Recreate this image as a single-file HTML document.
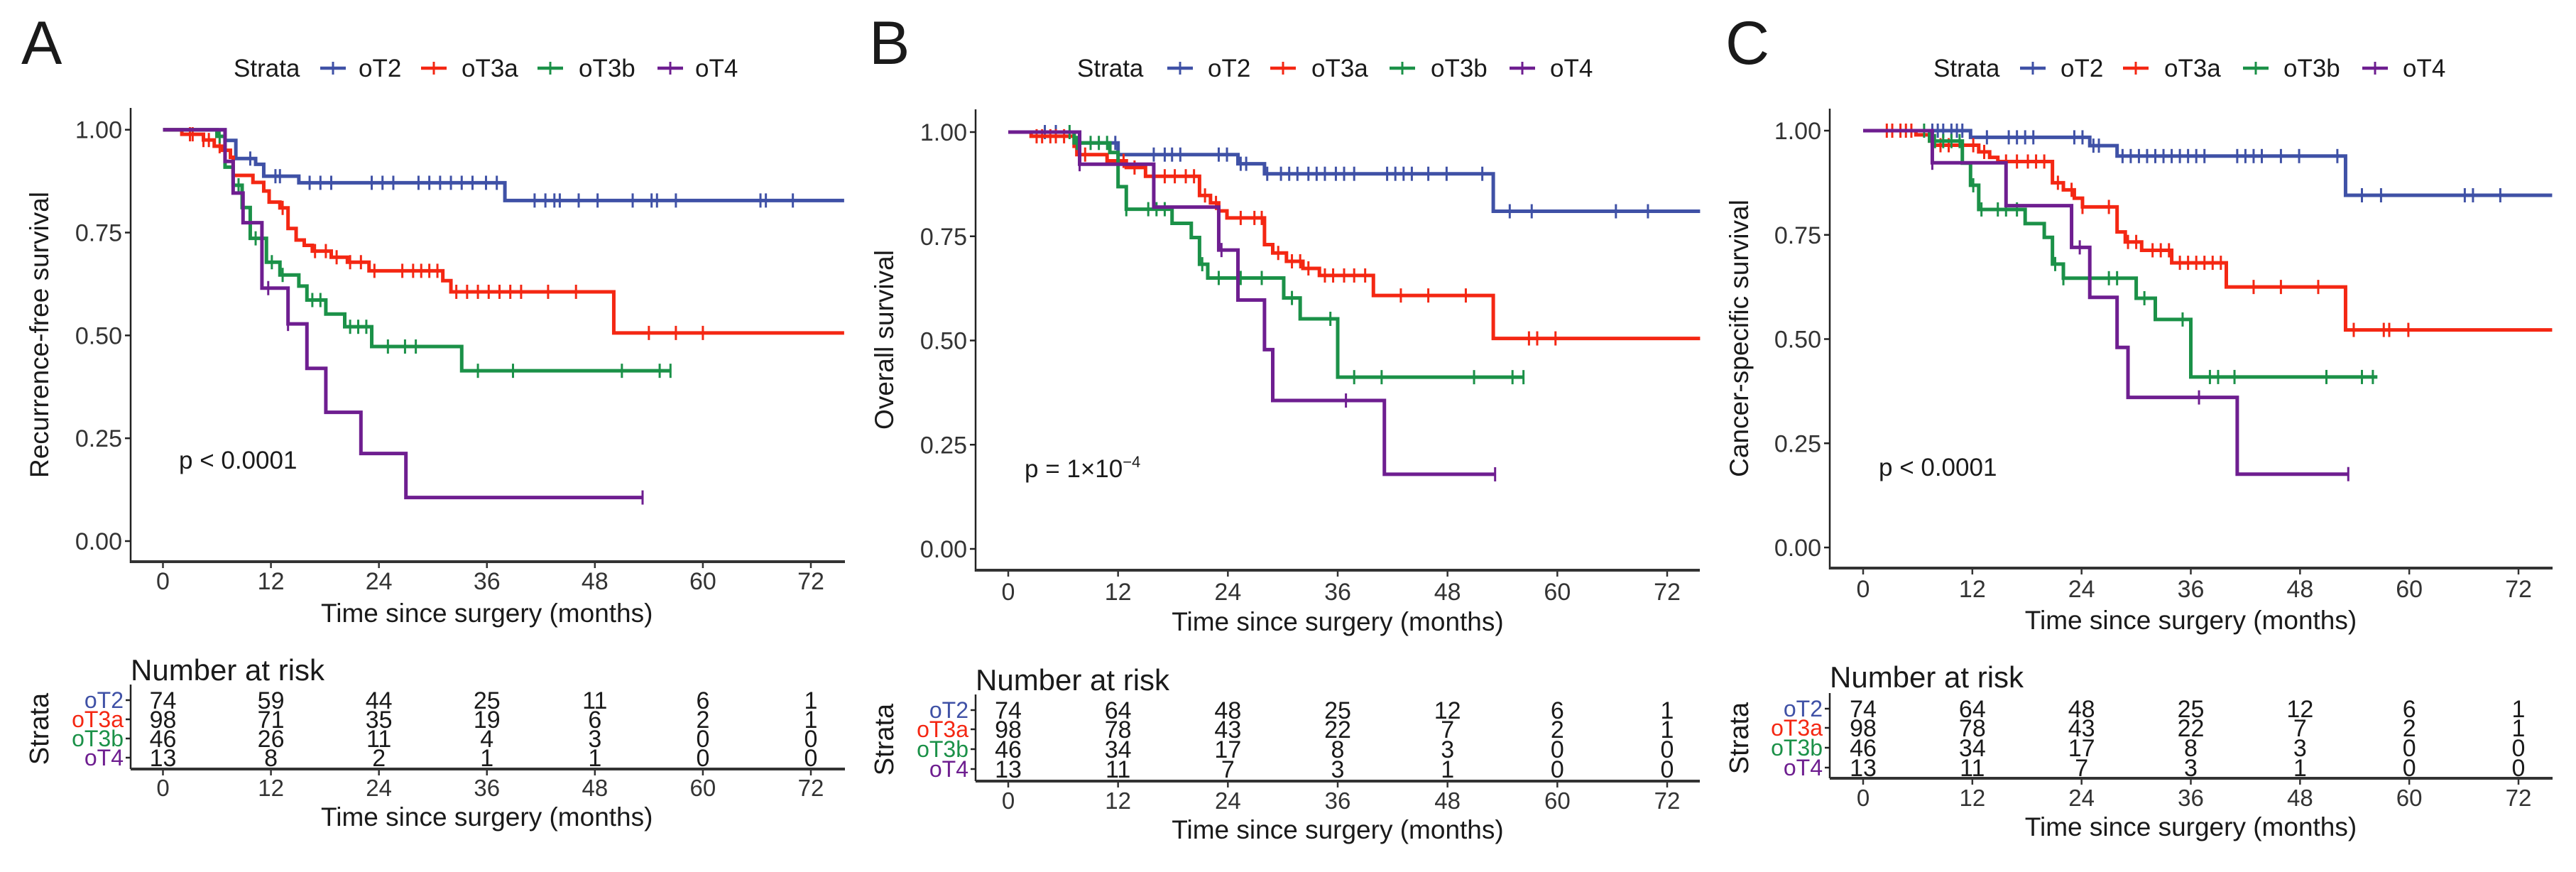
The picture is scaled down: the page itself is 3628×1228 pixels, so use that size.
<!DOCTYPE html>
<html><head><meta charset="utf-8"><style>
html,body{margin:0;padding:0;background:#fff}
svg{display:block}
text{font-family:"Liberation Sans",Arial,sans-serif}
</style></head><body>
<svg id="fig" width="3628" height="1228" viewBox="0 0 3628 1228" xmlns="http://www.w3.org/2000/svg" fill="#1a1a1a"></svg>
<script>
// ---------- data ----------
const strataNames = ["oT2","oT3a","oT3b","oT4"];
const timeTicks = [0,12,24,36,48,60,72];
const yTicks = [0,0.25,0.5,0.75,1];
const yTickLabels = ["0.00","0.25","0.50","0.75","1.00"];

const riskA = [[74,59,44,25,11,6,1],[98,71,35,19,6,2,1],[46,26,11,4,3,0,0],[13,8,2,1,1,0,0]];
const riskB = [[74,64,48,25,12,6,1],[98,78,43,22,7,2,1],[46,34,17,8,3,0,0],[13,11,7,3,1,0,0]];
const riskC = [[74,64,48,25,12,6,1],[98,78,43,22,7,2,1],[46,34,17,8,3,0,0],[13,11,7,3,1,0,0]];

// steps: [time, survival]; end time; censor times
const A_oT2 = [[6.9,0.974],[8.1,0.930],[10.3,0.916],[11.2,0.887],[15.1,0.871],[38.0,0.828]];
const A_oT3a = [[2.1,0.989],[4.5,0.975],[5.7,0.96],[6.6,0.95],[7.5,0.933],[7.8,0.889],[10.0,0.872],[11.2,0.851],[11.8,0.824],[13.0,0.81],[13.9,0.76],[14.8,0.732],[15.7,0.719],[16.6,0.705],[18.7,0.69],[20.5,0.678],[22.9,0.657],[31.1,0.633],[32.0,0.606],[50.1,0.506]];
const A_oT3b = [[6.0,0.984],[6.9,0.909],[7.8,0.865],[8.8,0.811],[9.7,0.736],[11.5,0.678],[13.0,0.647],[15.1,0.62],[16.0,0.586],[18.1,0.552],[20.2,0.521],[23.2,0.473],[33.2,0.414]];
const A_oT4 = [[6.9,0.923],[7.8,0.846],[8.9,0.774],[11.0,0.615],[13.9,0.528],[16.0,0.42],[18.1,0.313],[22.0,0.213],[27.0,0.106]];
const A_end = [75.7,75.7,56.5,53.3];
const A_cens_oT2 = [9.7,12.5,13.0,16.3,17.5,18.7,23.2,24.4,25.6,28.4,29.6,30.8,32.0,33.2,34.4,35.9,37.1,41.3,42.5,43.5,44.1,46.2,48.3,52.2,54.3,54.9,57.0,66.4,67.0,70.0];
const A_cens_oT3a = [3.0,3.3,4.5,5.1,6.3,13.3,16.9,18.1,19.3,20.8,22.0,23.5,26.6,27.8,28.7,29.6,30.5,32.6,33.8,35.0,36.2,37.4,38.6,39.8,42.8,45.9,54.0,57.0,60.0];
const A_cens_oT3b = [6.3,8.4,10.3,12.1,13.3,16.6,17.5,20.8,21.7,22.6,25.0,26.9,28.1,35.0,38.9,51.0,55.2,56.4];
const A_cens_oT4 = [11.7,13.9,53.3];

const B_oT2 = [[7.8,0.974],[12.0,0.946],[25.1,0.924],[28.0,0.90],[53.0,0.81]];
const B_oT3a = [[2.5,0.99],[7.2,0.966],[7.5,0.946],[10.8,0.931],[12.9,0.915],[15.0,0.894],[20.9,0.848],[22.1,0.83],[23.0,0.811],[23.9,0.794],[28.0,0.73],[28.9,0.71],[30.4,0.69],[32.2,0.673],[34.0,0.656],[39.9,0.608],[53.0,0.505]];
const B_oT3b = [[7.2,0.974],[11.1,0.951],[12.0,0.869],[12.9,0.815],[17.9,0.781],[20.0,0.747],[20.9,0.683],[21.8,0.65],[30.1,0.602],[31.9,0.552],[36.0,0.412]];
const B_oT4 = [[7.8,0.923],[15.9,0.82],[23.0,0.717],[25.1,0.597],[28.0,0.478],[28.9,0.356],[41.1,0.179]];
const B_end = [75.6,75.6,56.4,53.2];
const B_cens_oT2 = [4.0,5.2,11.7,15.9,17.1,17.9,18.8,23.0,23.9,25.4,26.0,28.3,29.8,30.7,31.6,32.8,33.7,34.6,35.8,36.7,37.8,41.4,42.3,43.2,44.1,45.9,47.9,51.8,54.8,57.2,66.4,69.9];
const B_cens_oT3a = [3.1,3.7,4.6,5.2,6.1,8.4,12.6,13.8,15.9,17.1,18.2,19.4,20.3,21.5,22.7,25.4,26.9,27.7,29.5,31.0,31.9,32.8,34.6,35.5,36.7,37.8,39.0,42.9,45.9,50.0,56.9,57.8,59.8];
const B_cens_oT3b = [6.7,7.5,9.0,9.9,10.8,12.9,15.3,16.2,17.1,21.2,23.0,25.4,27.7,31.0,35.2,37.8,40.8,50.9,55.1,56.3];
const B_cens_oT4 = [7.8,23.3,36.9,53.2];

const C_oT2 = [[11.8,0.984],[24.9,0.964],[27.9,0.939],[53.0,0.845]];
const C_oT3a = [[5.8,0.99],[7.3,0.975],[7.6,0.965],[12.7,0.949],[13.9,0.936],[14.8,0.926],[20.8,0.875],[22.0,0.858],[23.2,0.838],[24.1,0.817],[27.9,0.757],[28.8,0.733],[30.6,0.713],[33.9,0.683],[39.9,0.625],[53.0,0.522]];
const C_oT3b = [[7.3,0.975],[10.9,0.922],[11.8,0.869],[12.7,0.811],[17.8,0.777],[19.9,0.744],[20.8,0.68],[22.0,0.646],[30.0,0.598],[32.1,0.547],[36.0,0.409]];
const C_oT4 = [[7.6,0.923],[15.7,0.82],[22.9,0.72],[24.9,0.6],[27.9,0.48],[29.1,0.36],[41.1,0.176]];
const C_end = [75.7,75.7,56.5,53.3];
const C_cens_oT2 = [7.6,8.2,8.8,9.7,10.3,10.9,13.6,16.0,16.9,17.8,18.7,23.2,24.1,25.3,25.9,28.5,29.4,30.3,31.2,32.1,33.0,33.9,34.8,35.7,36.6,37.5,41.1,42.0,42.9,43.8,45.9,47.9,52.1,54.8,56.9,66.1,67.0,70.0];
const C_cens_oT3a = [2.6,3.2,4.1,4.7,5.3,8.5,9.4,12.1,13.3,15.7,16.9,18.1,19.0,19.9,21.4,22.9,24.1,27.0,29.1,30.0,31.8,32.7,33.6,34.8,35.7,36.6,37.5,38.4,39.3,42.9,45.9,50.0,53.9,57.2,57.8,59.9];
const C_cens_oT3b = [6.7,7.9,8.8,9.7,10.6,12.1,13.0,14.8,15.7,16.9,21.1,22.0,27.0,27.9,30.9,35.1,38.1,39.0,40.8,50.9,54.8,56.0];
const C_cens_oT4 = [7.6,23.8,36.9,53.3];

// ---------- drawing ----------
const colors = ["#3f51a6","#f42713","#1b9148","#6e1e90"];
const NS = "http://www.w3.org/2000/svg";
const svg = document.getElementById("fig");
function mk(tag, attrs, parent, txt){
  const e = document.createElementNS(NS, tag);
  for (const k in attrs) e.setAttribute(k, attrs[k]);
  if (txt !== undefined) e.textContent = txt;
  (parent||svg).appendChild(e);
  return e;
}
const panels = [
  {id:"a", letter:"A", lx:30, ax:184, x0:229.5, x72:1142, y1:182.7, y0:762, top:152, xline:791, right:1190, tickY:830, xtitleY:876, ytitle:"Recurrence-free survival", ytx:68, legY:96,
   leg:[329,451,505,593,650,757,815,926,979], p:"p < 0.0001", px:252, py:660, rtitleY:944, rows:[986,1013,1040,1067], raxis:1083, rtickY:1121, rxtitleY:1163, risk:riskA,
   curves:[A_oT2,A_oT3a,A_oT3b,A_oT4], ends:A_end, cens:[A_cens_oT2,A_cens_oT3a,A_cens_oT3b,A_cens_oT4]},
  {id:"b", letter:"B", lx:1224, ax:1374, x0:1420, x72:2348, y1:186, y0:773, top:154, xline:803, right:2394, tickY:845, xtitleY:888, ytitle:"Overall survival", ytx:1258, legY:96,
   leg:[1517,1644,1701,1789,1847,1957,2015,2126,2183], p:"p = 1×10", px:1443, py:672, rtitleY:958, rows:[1000,1027,1055,1083], raxis:1100, rtickY:1139, rxtitleY:1181, risk:riskB,
   curves:[B_oT2,B_oT3a,B_oT3b,B_oT4], ends:B_end, cens:[B_cens_oT2,B_cens_oT3a,B_cens_oT3b,B_cens_oT4]},
  {id:"c", letter:"C", lx:2430, ax:2577, x0:2624, x72:3547, y1:184, y0:771, top:153, xline:800, right:3595, tickY:841, xtitleY:886, ytitle:"Cancer-specific survival", ytx:2462, legY:96,
   leg:[2723,2845,2902,2990,3048,3159,3216,3327,3384], p:"p < 0.0001", px:2646, py:670, rtitleY:954, rows:[998,1025,1053,1081], raxis:1096, rtickY:1135, rxtitleY:1177, risk:riskC,
   curves:[C_oT2,C_oT3a,C_oT3b,C_oT4], ends:C_end, cens:[C_cens_oT2,C_cens_oT3a,C_cens_oT3b,C_cens_oT4]}
];

panels.forEach(P => {
  const g = mk("g", {});
  
  
  const xs = t => P.x0 + (P.x72 - P.x0) * t / 72;
  const ys = v => P.y0 + (P.y1 - P.y0) * v;

  const L = mk("text", {x:P.lx, y:90, "font-size":86}, g, P.letter);
  
  

  // legend
  const lg = mk("g", {}, g);
  
  
  const lt = mk("text", {x:P.leg[0], y:P.legY+12, "font-size":35}, lg, "Strata");
  
  
  strataNames.forEach((s, i) => {
    const ex = mk("g", {}, lg);
    
    
    const sx = P.leg[1 + 2*i], tx = P.leg[2 + 2*i];
    mk("line", {x1:sx, x2:sx+36, y1:P.legY, y2:P.legY, stroke:colors[i], "stroke-width":4.5}, ex);
    mk("line", {x1:sx+18, x2:sx+18, y1:P.legY-9, y2:P.legY+9, stroke:colors[i], "stroke-width":3}, ex);
    mk("text", {x:tx, y:P.legY+12, "font-size":35}, ex, s);
  });

  // axes
  const ax = mk("g", {}, g);
  
  
  mk("line", {x1:P.ax, x2:P.ax, y1:P.top, y2:P.xline+2, stroke:"#222", "stroke-width":2.5}, ax);
  mk("line", {x1:P.ax, x2:P.right, y1:P.xline, y2:P.xline, stroke:"#333", "stroke-width":4}, ax);
  yTicks.forEach((v, i) => {
    mk("line", {x1:P.ax-8, x2:P.ax, y1:ys(v), y2:ys(v), stroke:"#222", "stroke-width":2.5}, ax);
    const t = mk("text", {x:P.ax-12, y:ys(v)+12, "font-size":34, "text-anchor":"end", fill:"#333"}, ax, yTickLabels[i]);
    
    
  });
  timeTicks.forEach(t => {
    mk("line", {x1:xs(t), x2:xs(t), y1:P.xline, y2:P.xline+9, stroke:"#333", "stroke-width":2.5}, ax);
    const tl = mk("text", {x:xs(t), y:P.tickY, "font-size":34, "text-anchor":"middle", fill:"#333"}, ax, String(t));
    
    
  });
  const xt = mk("text", {x:(P.x0+P.x72)/2, y:P.xtitleY, "font-size":37, "text-anchor":"middle"}, ax, "Time since surgery (months)");
  
  
  const yc = (P.top + P.xline)/2;
  const yt = mk("text", {x:P.ytx, y:yc, "font-size":37, "text-anchor":"middle", transform:`rotate(-90 ${P.ytx} ${yc})`}, ax, P.ytitle);
  
  

  // curves
  P.curves.forEach((steps, i) => {
    let d = `M${xs(0)},${ys(1)}`;
    steps.forEach(st => { d += ` H${xs(st[0])} V${ys(st[1])}`; });
    d += ` H${xs(P.ends[i])}`;
    const path = mk("path", {d:d, fill:"none", stroke:colors[i], "stroke-width":5}, g);
    
    
    P.cens[i].forEach(ct => {
      let sv = 1;
      steps.forEach(st => { if (st[0] <= ct) sv = st[1]; });
      const c = mk("line", {x1:xs(ct), x2:xs(ct), y1:ys(sv)-10, y2:ys(sv)+10, stroke:colors[i], "stroke-width":3}, g);
      
      
    });
  });

  // p-value
  const pv = mk("text", {x:P.px, y:P.py, "font-size":35}, g, P.p);
  
  
  if (P.id === "b") mk("tspan", {"font-size":22, dy:-14}, pv, "−4");

  // risk table
  const rt = mk("g", {}, g);
  
  
  const rtt = mk("text", {x:P.ax, y:P.rtitleY+14, "font-size":42}, rt, "Number at risk");
  
  
  mk("line", {x1:P.ax, x2:P.ax, y1:P.rows[0]-22, y2:P.raxis, stroke:"#222", "stroke-width":2.5}, rt);
  mk("line", {x1:P.ax, x2:P.right, y1:P.raxis, y2:P.raxis, stroke:"#333", "stroke-width":4}, rt);
  strataNames.forEach((s, i) => {
    const y = P.rows[i];
    mk("line", {x1:P.ax-7, x2:P.ax, y1:y, y2:y, stroke:"#222", "stroke-width":2.5}, rt);
    const sl = mk("text", {x:P.ax-10, y:y+11, "font-size":32, "text-anchor":"end", fill:colors[i]}, rt, s);
    
    
    timeTicks.forEach((t, j) => {
      const n = mk("text", {x:xs(t), y:y+12, "font-size":34, "text-anchor":"middle"}, rt, String(P.risk[i][j]));
      
      
    });
  });
  timeTicks.forEach(t => {
    mk("line", {x1:xs(t), x2:xs(t), y1:P.raxis, y2:P.raxis+9, stroke:"#333", "stroke-width":2.5}, rt);
    mk("text", {x:xs(t), y:P.rtickY, "font-size":33, "text-anchor":"middle", fill:"#333"}, rt, String(t));
  });
  mk("text", {x:(P.x0+P.x72)/2, y:P.rxtitleY, "font-size":37, "text-anchor":"middle"}, rt, "Time since surgery (months)");
  const rc = (P.rows[0]+P.rows[3])/2;
  const rs = mk("text", {x:P.ytx, y:rc, "font-size":38, "text-anchor":"middle", transform:`rotate(-90 ${P.ytx} ${rc})`}, rt, "Strata");
  
  
});
</script>
</body></html>
